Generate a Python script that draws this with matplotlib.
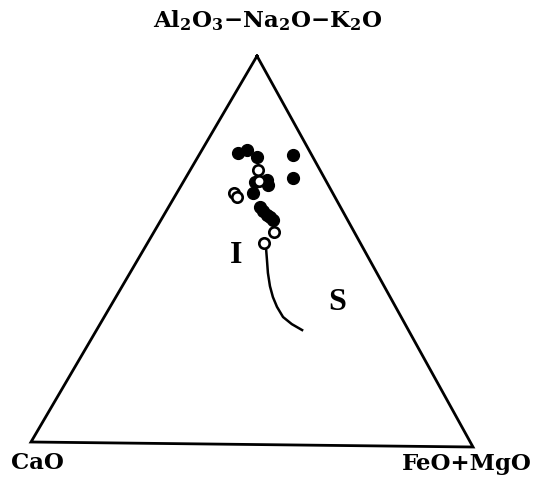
import numpy as np
import matplotlib.pyplot as plt

plt.rcParams['mathtext.default'] = 'regular'

# compositions as fractions: A = Al2O3-Na2O-K2O, F = FeO+MgO (CaO = 1 - A - F)
filled_A = [0.750, 0.758, 0.741, 0.676, 0.681, 0.668, 0.647, 0.746, 0.686,
            0.612, 0.600, 0.591, 0.585, 0.578]
filled_F = [0.085, 0.100, 0.132, 0.161, 0.185, 0.194, 0.172, 0.212, 0.243,
            0.205, 0.219, 0.231, 0.241, 0.251]

open_A = [0.707, 0.678, 0.647, 0.637, 0.548, 0.519]
open_F = [0.153, 0.169, 0.129, 0.140, 0.270, 0.261]

# I/S boundary line
line_A = [0.506, 0.475, 0.442, 0.408, 0.380, 0.355, 0.329, 0.311, 0.296]
line_F = [0.273, 0.291, 0.310, 0.332, 0.353, 0.375, 0.402, 0.431, 0.462]

# corners of the triangle on the page (pixels, y down)
top = np.array([257.0, 56.0])
left = np.array([31.0, 442.0])
right = np.array([473.0, 447.0])


def tern(A, F):
    A = np.asarray(A)
    F = np.asarray(F)
    C = 1 - A - F
    x = A * top[0] + C * left[0] + F * right[0]
    y = A * top[1] + C * left[1] + F * right[1]
    return x, y


fig = plt.figure(figsize=(5.33, 4.82), dpi=100)
ax = fig.add_axes([0, 0, 1, 1])
ax.set_xlim(0, 533)
ax.set_ylim(482, 0)
ax.axis('off')

tri = np.array([top, left, right, top])
ax.plot(tri[:, 0], tri[:, 1], color='black', lw=2.0, solid_joinstyle='miter')

x, y = tern(line_A, line_F)
ax.plot(x, y, color='black', lw=1.8)

x, y = tern(filled_A, filled_F)
ax.plot(x, y, 'o', color='black', ms=8.5, ls='none')

x, y = tern(open_A, open_F)
ax.plot(x, y, 'o', mfc='white', mec='black', mew=1.9, ms=7.5, ls='none')

lab = dict(family='DejaVu Serif', weight='bold', size=16.5)
ax.text(268, 21, 'Al$_2$O$_3$\u2212Na$_2$O\u2212K$_2$O', ha='center', va='center', **lab)
ax.text(37, 463, 'CaO', ha='center', va='center', **lab)
ax.text(467, 464, 'FeO+MgO', ha='center', va='center', **lab)

x, y = tern([0.487, 0.369], [0.215, 0.503])
ax.text(x[0], y[0], 'I', ha='center', va='center', family='Liberation Serif', weight='bold', size=23)
ax.text(x[1], y[1], 'S', ha='center', va='center', family='Liberation Serif', weight='bold', size=23)

fig.savefig('out.png', dpi=100)
